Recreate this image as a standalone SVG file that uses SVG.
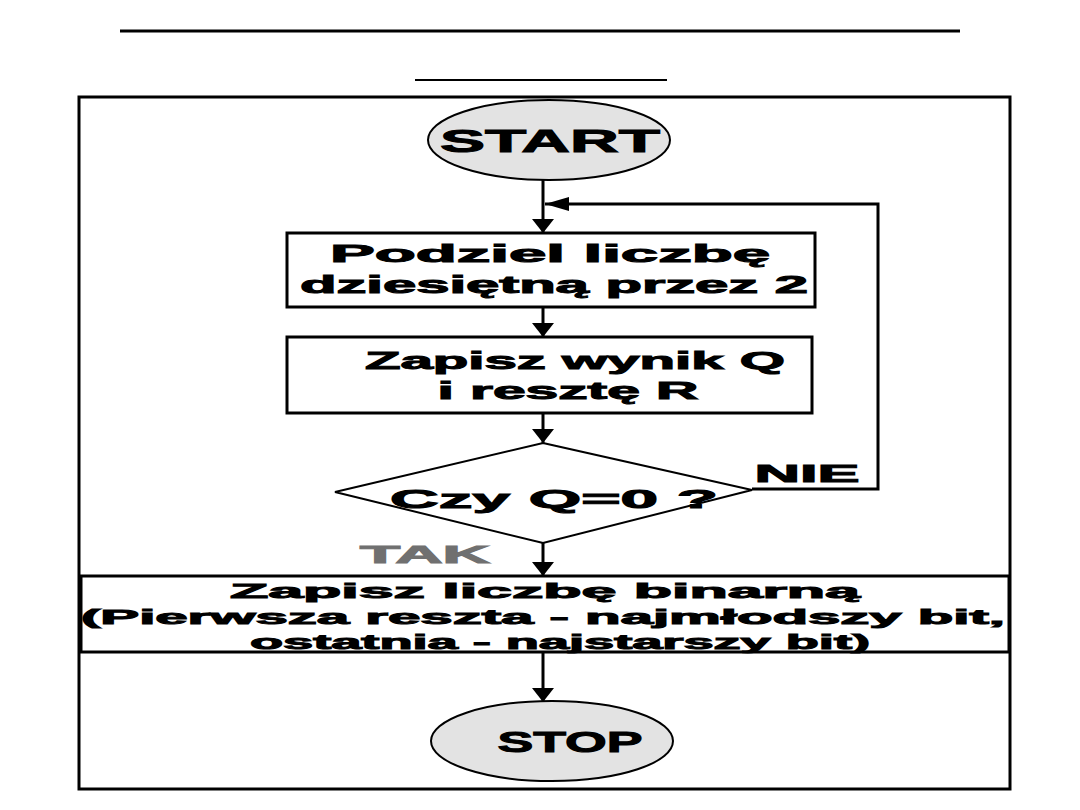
<svg xmlns="http://www.w3.org/2000/svg" width="1080" height="810" viewBox="0 0 1080 810">
<style>
.t{font-family:"Liberation Sans",Arial,sans-serif;font-weight:bold;fill:#000;stroke:#000;stroke-width:1;}
.ln{stroke:#000;stroke-width:3;fill:none;}
.box{fill:#fff;stroke:#000;stroke-width:3;}
.ov{fill:#e3e3e3;stroke:#000;stroke-width:2;}
</style>
<defs>
<marker id="ah" markerUnits="userSpaceOnUse" markerWidth="16" markerHeight="22" refX="14" refY="11" orient="auto">
<path d="M0,0 L14,11 L0,22 Z" fill="#000"/>
</marker>
<marker id="ahs" markerUnits="userSpaceOnUse" markerWidth="26" markerHeight="14" refX="24" refY="7" orient="auto">
<path d="M0,0 L24,7 L0,14 Z" fill="#000"/>
</marker>
</defs>
<rect width="1080" height="810" fill="#fff"/>
<line x1="120" y1="31" x2="960" y2="31" stroke="#000" stroke-width="3"/>
<line x1="415" y1="80" x2="667" y2="80" stroke="#000" stroke-width="2"/>
<rect x="79" y="97" width="931" height="692" fill="none" stroke="#000" stroke-width="3"/>

<g id="connectors">
<line class="ln" x1="543" y1="179" x2="543" y2="233" marker-end="url(#ah)"/>
<polyline class="ln" points="752,489 878,489 878,204 545,204" marker-end="url(#ahs)"/>
<line class="ln" x1="543" y1="307" x2="543" y2="337" marker-end="url(#ah)"/>
<line class="ln" x1="543" y1="413" x2="543" y2="443" marker-end="url(#ah)"/>
<line class="ln" x1="543" y1="543" x2="543" y2="576" marker-end="url(#ah)"/>
<line class="ln" x1="543" y1="652" x2="543" y2="702" marker-end="url(#ah)"/>
</g>

<g id="start">
<ellipse class="ov" cx="549" cy="140" rx="121" ry="40"/>
<text class="t" x="550" y="152" font-size="32" text-anchor="middle" textLength="220" lengthAdjust="spacingAndGlyphs">START</text>
</g>

<g id="divide">
<rect class="box" x="287" y="233" width="528" height="74"/>
<text class="t" x="550" y="262" font-size="24" text-anchor="middle" textLength="440" lengthAdjust="spacingAndGlyphs">Podziel liczbę</text>
<text class="t" x="554" y="293" font-size="24" text-anchor="middle" textLength="508" lengthAdjust="spacingAndGlyphs">dziesiętną przez 2</text>
</g>

<g id="store">
<rect class="box" x="287" y="337" width="525" height="76"/>
<text class="t" x="575" y="369" font-size="24" text-anchor="middle" textLength="420" lengthAdjust="spacingAndGlyphs">Zapisz wynik Q</text>
<text class="t" x="568" y="399" font-size="24" text-anchor="middle" textLength="261" lengthAdjust="spacingAndGlyphs">i resztę R</text>
</g>

<g id="decision">
<polygon points="543,443 752,490 543,543 335,492" fill="#fff" stroke="#000" stroke-width="2"/>
<text class="t" x="554" y="508" font-size="26" text-anchor="middle" textLength="328" lengthAdjust="spacingAndGlyphs">Czy Q=0 ?</text>
<text class="t" x="807" y="482" font-size="24" text-anchor="middle" textLength="105" lengthAdjust="spacingAndGlyphs">NIE</text>
<text class="t" x="425" y="563" font-size="24" text-anchor="middle" textLength="130" lengthAdjust="spacingAndGlyphs" style="fill:#707070;stroke:#707070">TAK</text>
</g>

<g id="binary">
<rect class="box" x="81" y="576" width="928" height="76"/>
<text class="t" x="545" y="598" font-size="21" text-anchor="middle" textLength="630" lengthAdjust="spacingAndGlyphs">Zapisz liczbę binarną</text>
<text class="t" x="543" y="624" font-size="21" text-anchor="middle" textLength="924" lengthAdjust="spacingAndGlyphs">(Pierwsza reszta - najmłodszy bit,</text>
<text class="t" x="560" y="649" font-size="21" text-anchor="middle" textLength="620" lengthAdjust="spacingAndGlyphs">ostatnia - najstarszy bit)</text>
</g>

<g id="stop">
<ellipse class="ov" cx="552" cy="741" rx="121" ry="40"/>
<text class="t" x="570" y="752" font-size="30" text-anchor="middle" textLength="145" lengthAdjust="spacingAndGlyphs">STOP</text>
</g>
</svg>
